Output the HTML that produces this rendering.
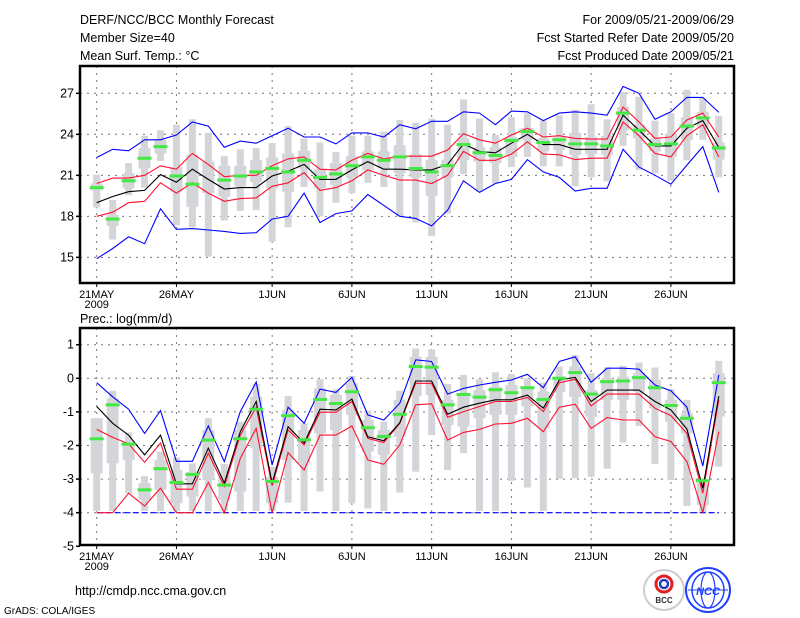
<!DOCTYPE html>
<html><head><meta charset="utf-8"><style>
body{margin:0;background:#fff;}
svg{display:block;font-family:"Liberation Sans",sans-serif;}
text{font-size:12.5px;fill:#000;}
</style></head><body>
<svg id="c" width="800" height="618" viewBox="0 0 800 618">
<text x="80" y="24">DERF/NCC/BCC Monthly Forecast</text>
<text x="80" y="42">Member Size=40</text>
<text x="80" y="60">Mean Surf. Temp.: °C</text>
<text x="734" y="24" text-anchor="end">For 2009/05/21-2009/06/29</text>
<text x="734" y="42" text-anchor="end">Fcst Started Refer Date 2009/05/20</text>
<text x="734" y="60" text-anchor="end">Fcst Produced Date 2009/05/21</text>
<text x="80" y="323">Prec.: log(mm/d)</text>
<text x="75" y="595">http://cmdp.ncc.cma.gov.cn</text>
<text x="4" y="614" style="font-size:10px">GrADS: COLA/IGES</text>
<g>
<circle cx="664" cy="590" r="20" fill="#fff" stroke="#ccc" stroke-width="2"/>
<circle cx="664" cy="584" r="8" fill="none" stroke="#e02020" stroke-width="3"/>
<circle cx="664" cy="584" r="4" fill="none" stroke="#2040c0" stroke-width="2.5"/>
<text x="664" y="603" text-anchor="middle" style="font-size:8px;font-weight:bold;fill:#333">BCC</text>
</g>
<g>
<circle cx="708" cy="590" r="22" fill="#fff" stroke="#2040ff" stroke-width="2"/>
<ellipse cx="708" cy="590" rx="16" ry="18" fill="none" stroke="#2040ff" stroke-width="1.5"/>
<ellipse cx="708" cy="590" rx="7" ry="18" fill="none" stroke="#2040ff" stroke-width="1.2"/>
<line x1="688" y1="590" x2="728" y2="590" stroke="#2040ff"/>
<text x="708" y="595" text-anchor="middle" style="font-size:11px;font-weight:bold;font-style:italic;fill:#2040ff">NCC</text>
</g>
</svg>
<script>
// ---- Temperature data ----
const tBlueUp=[22.3,22.9,22.8,23.6,23.6,23.95,24.9,24.6,23.05,23.5,23.35,23.9,24.45,23.8,23.8,23.3,24.1,24.1,23.8,24.7,24.4,24.95,24.95,25.65,25.55,24.7,25.7,25.65,25.0,25.55,25.65,25.55,25.4,27.5,27.0,25.1,25.65,26.7,26.7,25.6];
const tRedUp=[20.4,20.8,20.8,21.0,21.7,21.45,22.6,21.8,20.9,21.0,21.0,21.7,22.2,22.35,21.45,21.4,22.1,22.6,22.2,22.4,22.4,22.4,22.85,24.05,23.6,23.35,23.95,24.45,23.8,23.9,23.7,23.65,23.65,26.0,24.9,23.7,23.8,25.05,25.55,23.8];
const tMean=[19.0,19.45,19.8,19.9,21.05,20.5,21.45,20.7,20.0,20.1,20.1,20.95,21.3,21.8,20.7,20.7,21.4,22.0,21.45,21.45,21.4,21.4,21.8,23.3,22.75,22.65,23.35,24.0,23.25,23.25,22.9,22.9,22.9,25.4,24.3,23.15,23.15,24.45,25.0,23.05];
const tRedLo=[18.0,18.3,19.0,19.1,20.45,19.7,20.45,19.7,19.1,19.3,19.35,20.2,20.45,21.2,19.9,20.1,20.6,21.4,21.0,20.65,20.65,20.4,21.0,22.75,22.1,22.1,22.55,23.45,22.55,22.5,22.15,22.25,22.25,24.9,23.9,22.6,22.35,23.9,24.7,22.35];
const tBlueLo=[14.9,15.65,16.5,16.0,18.55,17.05,17.1,17.0,16.9,16.75,16.8,17.8,18.0,19.7,17.55,18.2,18.4,19.6,18.8,18.0,17.85,17.3,18.45,20.6,19.75,20.4,20.7,22.15,21.25,20.85,19.85,20.05,20.05,22.9,21.6,21.0,20.35,21.75,23.1,19.75];
const tObs=[20.1,17.8,20.6,22.25,23.1,20.95,20.35,null,20.65,20.95,21.25,21.5,21.25,22.1,20.85,21.1,21.7,22.35,22.1,22.35,21.5,21.25,21.7,23.25,22.65,22.45,23.55,24.2,23.4,23.6,23.3,23.3,23.15,25.55,24.3,23.25,23.3,24.6,25.2,23.0];
const tMax=[21.05,19.2,21.9,23.9,24.3,24.7,25.1,24.1,22.4,22.9,23.0,23.35,24.6,23.7,23.4,22.7,23.9,23.9,24.2,25.05,24.85,25.15,24.7,26.55,25.15,23.95,25.25,25.55,25.0,25.4,25.8,26.2,25.1,27.1,26.75,25.0,25.55,27.25,26.65,25.35];
const tMin=[18.65,16.3,19.55,20.1,22.05,17.35,17.2,15.05,17.7,18.4,18.45,16.15,17.2,20.15,18.0,19.0,19.7,20.45,20.15,18.0,17.55,16.55,18.2,21.1,19.8,20.4,21.6,22.35,21.65,21.65,20.2,20.85,20.55,23.15,21.4,21.15,20.6,22.1,23.6,20.85];
const tQ3=[20.4,18.1,21.15,23.0,23.6,21.6,22.5,22.0,21.7,21.7,22.1,22.3,22.6,22.8,21.45,21.9,22.4,22.75,22.75,23.2,22.55,22.1,22.15,23.7,23.05,23.05,23.8,24.45,23.7,23.8,24.1,23.8,23.9,26.0,24.7,23.65,24.05,25.25,25.65,23.4];
const tQ1=[19.9,17.3,20.05,21.5,22.6,19.8,18.7,19.7,19.45,20.2,20.5,20.05,19.8,21.5,20.05,20.3,20.8,21.4,21.5,21.15,20.85,19.5,20.85,22.1,22.0,21.9,22.35,23.6,22.75,22.85,22.5,22.55,22.5,24.3,23.7,22.75,22.35,23.6,24.55,22.15];
const tTicks=[15,18,21,24,27];
// ---- Precipitation data ----
const pBlueUp=[-0.13,-0.55,-0.92,-1.64,-0.96,-2.47,-2.47,-1.42,-2.48,-0.99,-0.11,-2.58,-0.86,-1.34,-0.32,-0.42,0.03,-1.09,-1.24,-0.74,0.55,0.5,-0.47,-0.3,-0.2,-0.12,-0.05,0.12,-0.28,0.5,0.64,-0.12,0.3,0.3,0.27,-0.2,-0.37,-0.86,-2.61,0.1];
const pMean=[-0.84,-1.34,-1.69,-2.28,-1.69,-3.14,-3.14,-2.08,-3.12,-1.59,-0.69,-3.12,-1.44,-1.93,-0.92,-0.94,-0.62,-1.74,-1.86,-1.32,-0.08,-0.08,-1.07,-0.86,-0.74,-0.64,-0.64,-0.5,-0.89,-0.05,0.03,-0.69,-0.35,-0.35,-0.35,-0.69,-0.94,-1.51,-3.27,-0.53];
const pRedUp=[-1.52,-1.76,-1.95,-2.5,-1.93,-3.3,-3.3,-2.23,-3.22,-1.69,-0.86,-3.2,-1.54,-1.98,-1.01,-1.01,-0.69,-1.79,-1.91,-1.34,-0.15,-0.15,-1.16,-0.99,-0.84,-0.69,-0.69,-0.57,-0.99,-0.13,-0.03,-0.82,-0.47,-0.47,-0.47,-0.89,-1.11,-1.64,-3.42,-0.64];
const pRedLo=[-4,-4,-3.42,-3.8,-3.27,-4,-4,-3.1,-4,-2.38,-1.49,-4,-2.21,-2.73,-1.69,-1.69,-1.42,-2.43,-2.56,-1.98,-0.79,-0.76,-1.84,-1.61,-1.52,-1.36,-1.34,-1.19,-1.59,-0.86,-0.77,-1.49,-1.17,-1.24,-1.24,-1.74,-1.88,-2.48,-4,-1.59];
const pBlueLo=[-4,-4,-4,-4,-4,-4,-4,-4,-4,-4,-4,-4,-4,-4,-4,-4,-4,-4,-4,-4,-4,-4,-4,-4,-4,-4,-4,-4,-4,-4,-4,-4,-4,-4,-4,-4,-4,-4,-4,-4];
const pObs=[-1.8,-0.79,-1.96,-3.32,-2.69,-3.1,-2.86,-1.84,-3.18,-1.8,-0.92,-3.07,-1.11,-1.83,-0.63,-0.75,-0.4,-1.47,-1.73,-1.07,0.35,0.33,-0.79,-0.48,-0.56,-0.34,-0.43,-0.28,-0.63,0,0.17,-0.47,-0.1,-0.08,0.02,-0.28,-0.81,-1.19,-3.05,-0.13];
const pMax=[-1.19,-0.37,-1.61,-2.91,-2.18,-2.36,-2.53,-1.19,-2.55,-1.29,-0.17,-2.63,-0.53,-1.34,-0.03,-0.33,0.07,-0.96,-1.29,-0.37,0.89,0.86,-0.17,0.1,-0.03,0.18,0.13,0,-0.13,0.35,0.69,0.15,0.33,0.37,0.47,0.32,-0.32,-0.64,-2.98,0.52];
const pMin=[-3.95,-3.95,-3.42,-3.95,-3.95,-3.95,-3.95,-3.95,-3.95,-3.95,-3.95,-3.95,-3.7,-3.95,-3.37,-3.95,-3.72,-3.87,-3.95,-3.4,-2.78,-1.69,-2.73,-2.23,-3.95,-3.95,-3.05,-3.25,-3.95,-2.99,-2.97,-2.93,-2.69,-1.91,-1.42,-2.55,-3.03,-3.8,-4,-2.63];
const pQ3=[-1.19,-0.6,-1.88,-3.12,-2.43,-2.73,-2.78,-1.54,-2.88,-1.54,-0.55,-2.93,-0.94,-1.54,-0.3,-0.5,-0.15,-1.24,-1.54,-0.64,0.64,0.64,-0.64,-0.5,-0.35,-0.25,-0.2,-0.3,-0.4,0.05,0.35,-0.35,0,0.05,0.15,-0.05,-0.64,-1.04,-3.12,0.15];
const pQ1=[-2.83,-2.53,-2.43,-3.62,-3.32,-3.72,-3.52,-3.03,-3.62,-3.37,-2.08,-3.72,-2.43,-2.53,-1.64,-1.54,-1.09,-2.18,-2.28,-1.74,-0.53,-0.5,-1.39,-1.44,-1.19,-1.09,-1.09,-0.84,-1.49,-0.4,-0.55,-1.14,-0.64,-0.64,-0.4,-0.89,-1.29,-1.64,-3.77,-1.14];
const pTicks=[-5,-4,-3,-2,-1,0,1];
const dateLabels=["21MAY","26MAY","1JUN","6JUN","11JUN","16JUN","21JUN","26JUN"];
const dateIdx=[0,5,11,16,21,26,31,36];

const NS="http://www.w3.org/2000/svg";
const svg=document.getElementById('c');
function mk(tag,attrs,parent){const e=document.createElementNS(NS,tag);for(const k in attrs)e.setAttribute(k,attrs[k]);(parent||svg).appendChild(e);return e;}
const X0=80,X1=734;
function xs(d){return 96.7+15.95*d;}

function panel(cfg){
  const g=mk('g',{});
  
  
  const y=cfg.y;
  // grid
  cfg.ticks.forEach(t=>{
    const yy=y(t);
    if(yy>cfg.top+1&&yy<cfg.bot-1){const l=mk('line',{x1:X0,x2:X1,y1:yy,y2:yy,stroke:'#777','stroke-dasharray':'2,5','stroke-width':1},g);
    
    }
    const tk=mk('line',{x1:X0-4,x2:X0,y1:yy,y2:yy,stroke:'#000','stroke-width':1.5},g);
    
    
    const tx=mk('text',{x:X0-6,y:yy+4,'text-anchor':'end'},g);tx.textContent=t;
    
    
  });
  dateIdx.forEach((d,i)=>{
    const xx=xs(d);
    const l=mk('line',{x1:xx,x2:xx,y1:cfg.top,y2:cfg.bot,stroke:'#777','stroke-dasharray':'2,5','stroke-width':1},g);
    
    
    const tk=mk('line',{x1:xx,x2:xx,y1:cfg.bot,y2:cfg.bot+4,stroke:'#000','stroke-width':1},g);
    
    
    const tx=mk('text',{x:xx,y:cfg.bot+15,'text-anchor':'middle',style:'font-size:11px'},g);tx.textContent=dateLabels[i];
    
    
  });
  const yr=mk('text',{x:xs(0),y:cfg.bot+25,'text-anchor':'middle',style:'font-size:11px'},g);yr.textContent='2009';
  
  
  // bars
  cfg.max.forEach((v,d)=>{
    const xx=xs(d);
    const r1=mk('rect',{x:xx-3.5,width:7,y:y(v),height:y(cfg.min[d])-y(v),fill:'#d4d5d9'},g);
    
    
    const r2=mk('rect',{x:xx-6,width:12,y:y(cfg.q3[d]),height:y(cfg.q1[d])-y(cfg.q3[d]),fill:'#d4d5d9'},g);
    
    
  });
  // lines
  cfg.lines.forEach(L=>{
    const pts=L.data.map((v,d)=>xs(d).toFixed(1)+','+y(v).toFixed(1)).join(' ');
    const p=mk('polyline',{points:pts,fill:'none',stroke:L.color,'stroke-width':1.1},g);
    if(L.dash)p.setAttribute('stroke-dasharray',L.dash);
    
    
  });
  cfg.obs.forEach((v,d)=>{
    if(v===null)return;
    const r=mk('rect',{x:xs(d)-7,width:14,y:y(v)-1.5,height:3,fill:'#44e844'},g);
    
    
  });
  const fr=mk('rect',{x:X0,y:cfg.top,width:X1-X0,height:cfg.bot-cfg.top,fill:'none',stroke:'#000','stroke-width':2.5},g);
  
  
}
panel({name:'temperature-panel',top:66,bot:283,ticks:tTicks,y:v=>93.3+(27-v)*13.67,
  max:tMax,min:tMin,q3:tQ3,q1:tQ1,obs:tObs,
  lines:[{data:tBlueUp,color:'#0000ff',name:'temp-upper-bound'},{data:tBlueLo,color:'#0000ff',name:'temp-lower-bound'},
         {data:tRedUp,color:'#ff1030',name:'temp-upper-std'},{data:tRedLo,color:'#ff1030',name:'temp-lower-std'},
         {data:tMean,color:'#000',name:'temp-ensemble-mean'}]});
panel({name:'precip-panel',top:328,bot:545,ticks:pTicks,y:v=>378.3-v*33.6,
  max:pMax,min:pMin,q3:pQ3,q1:pQ1,obs:pObs,
  lines:[{data:pBlueUp,color:'#0000ff',name:'prec-upper-bound'},{data:pBlueLo,color:'#0000ff',name:'prec-lower-bound',dash:'6,3'},
         {data:pRedLo,color:'#ff1030',name:'prec-lower-std'},{data:pRedUp,color:'#ff1030',name:'prec-upper-std'},
         {data:pMean,color:'#000',name:'prec-ensemble-mean'}]});
</script>
</body></html>
